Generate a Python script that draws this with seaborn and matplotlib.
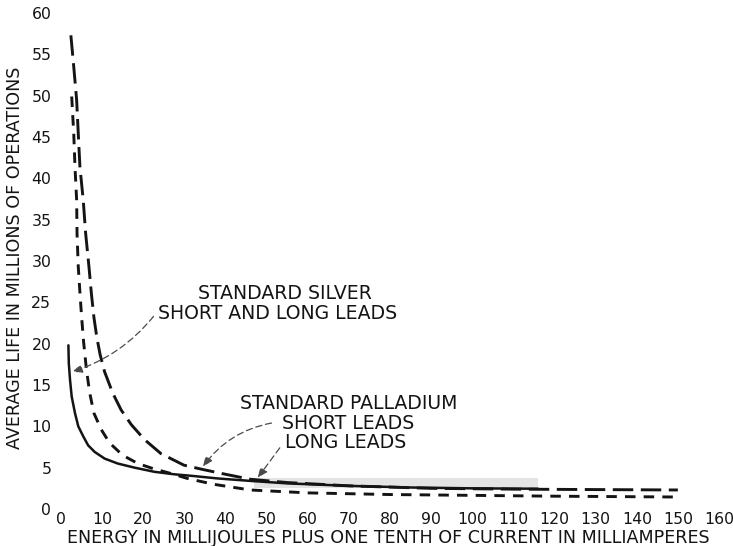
import matplotlib
matplotlib.use("Agg")
import matplotlib.pyplot as plt
import seaborn as sns
import pandas as pd

# Standard silver contacts, short and long leads (solid curve)
silver_x = [1.8, 1.9, 2.2, 2.6, 3.4, 4.2, 5.4, 6.6, 8.2, 10.6, 13.8, 17.9, 22.7,
            27.5, 32, 38, 46, 55, 70, 85, 100, 116]
silver_y = [19.8, 17.6, 15.6, 13.6, 11.6, 10.0, 8.8, 7.7, 6.9, 6.1, 5.5, 5.0, 4.5,
            4.2, 4.0, 3.7, 3.4, 3.1, 2.8, 2.6, 2.5, 2.45]

# Standard palladium, short leads (long-dash curve)
pd_short_x = [2.4, 3.1, 3.8, 4.2, 4.6, 5.4, 6.0, 6.8, 7.4, 8.0, 8.7, 9.5, 10.6, 12.6,
              14.6, 17.1, 20.3, 24.3, 29.9, 34.3, 40, 46, 55, 70, 90, 110, 130, 150]
pd_short_y = [57.3, 53.5, 49.5, 45.4, 41.4, 37.4, 33.3, 29.3, 26.0, 23.2, 20.8, 18.7,
              16.6, 14.0, 12.0, 10.2, 8.4, 6.7, 5.3, 4.8, 4.2, 3.6, 3.2, 2.8, 2.5,
              2.4, 2.35, 2.3]

# Standard palladium, long leads (short-dash curve)
pd_long_x = [2.6, 3.1, 3.4, 3.8, 3.9, 4.2, 4.6, 5.0, 5.5, 6.2, 7.0, 8.0, 9.8, 11.8,
             15.0, 18.7, 22.3, 26.7, 30.7, 37, 46, 60, 80, 100, 120, 150]
pd_long_y = [49.9, 45.4, 41.4, 37.4, 33.3, 29.3, 26.2, 23.3, 20.2, 16.8, 14.0, 11.6,
             9.6, 8.0, 6.5, 5.5, 4.9, 4.3, 3.7, 3.0, 2.3, 1.95, 1.75, 1.65, 1.55, 1.45]

x_ticks = list(range(0, 161, 10))
y_ticks = list(range(0, 61, 5))

x_label = "ENERGY IN MILLIJOULES PLUS ONE TENTH OF CURRENT IN MILLIAMPERES"
y_label = "AVERAGE LIFE IN MILLIONS OF OPERATIONS"

df = pd.concat([
    pd.DataFrame({"energy": silver_x, "life": silver_y, "curve": "silver"}),
    pd.DataFrame({"energy": pd_short_x, "life": pd_short_y, "curve": "pd_short"}),
    pd.DataFrame({"energy": pd_long_x, "life": pd_long_y, "curve": "pd_long"}),
], ignore_index=True)

sns.set_theme(style="white")
plt.rcParams["font.family"] = ["DejaVu Sans"]
ink = "#141414"

fig = plt.figure(figsize=(7.33, 5.46), dpi=100)
ax = fig.add_axes([61 / 733, 37 / 546, (719 - 61) / 733, 496 / 546])

# faint grey smudge of the printed sheet over the merged tails
ax.fill_between([47, 116], 2.6, 3.7, color="#e4e4e4", lw=0, zorder=0)

lw = 2.1
sns.lineplot(
    data=df, x="energy", y="life", style="curve", hue="curve",
    palette={"silver": ink, "pd_short": ink, "pd_long": ink},
    dashes={"silver": "", "pd_short": (7.0, 2.6), "pd_long": (3.6, 2.8)},
    size="curve", sizes={"silver": 1.8, "pd_short": lw, "pd_long": lw},
    estimator=None, sort=False, legend=False, ax=ax,
)

ax.set_xlim(0, 160)
ax.set_ylim(0, 60)
ax.set_xticks(x_ticks)
ax.set_yticks(y_ticks)
ax.set_xticklabels([str(v) for v in x_ticks])
ax.set_yticklabels([str(v) for v in y_ticks])
ax.tick_params(axis="both", length=0, labelsize=11.3, colors=ink)
ax.tick_params(axis="x", pad=2.5)
ax.tick_params(axis="y", pad=7)
sns.despine(ax=ax, left=True, bottom=True)

ax.set_xlabel(x_label, fontsize=12.6, color=ink)
ax.set_ylabel(y_label, fontsize=12.6, color=ink)
ax.xaxis.set_label_coords(0.497, -0.040)
ax.yaxis.set_label_coords(-0.056, 0.506)

txt = dict(fontsize=13.6, color=ink, ha="center", va="center")
ax.text(54.5, 26.1, "STANDARD SILVER", **txt)
ax.text(52.6, 23.7, "SHORT AND LONG LEADS", **txt)
ax.text(70.0, 12.8, "STANDARD PALLADIUM", **txt)
ax.text(69.8, 10.4, "SHORT LEADS", **txt)
ax.text(69.3, 8.0, "LONG LEADS", **txt)

arrow = dict(arrowstyle="-|>,head_length=0.5,head_width=0.2", color="#4a4a4a",
             lw=0.9, linestyle=(0, (5, 3)), shrinkA=0, shrinkB=0)
ax.annotate("", xy=(2.7, 16.6), xytext=(22.5, 23.3),
            arrowprops=dict(arrow, connectionstyle="arc3,rad=-0.15"))
ax.annotate("", xy=(34.5, 5.1), xytext=(51.2, 10.4),
            arrowprops=dict(arrow, connectionstyle="arc3,rad=0.2"))
ax.annotate("", xy=(47.8, 3.75), xytext=(53.2, 7.4),
            arrowprops=dict(arrow, connectionstyle="arc3,rad=0.0"))

fig.savefig("out.png", dpi=100, facecolor="white")
